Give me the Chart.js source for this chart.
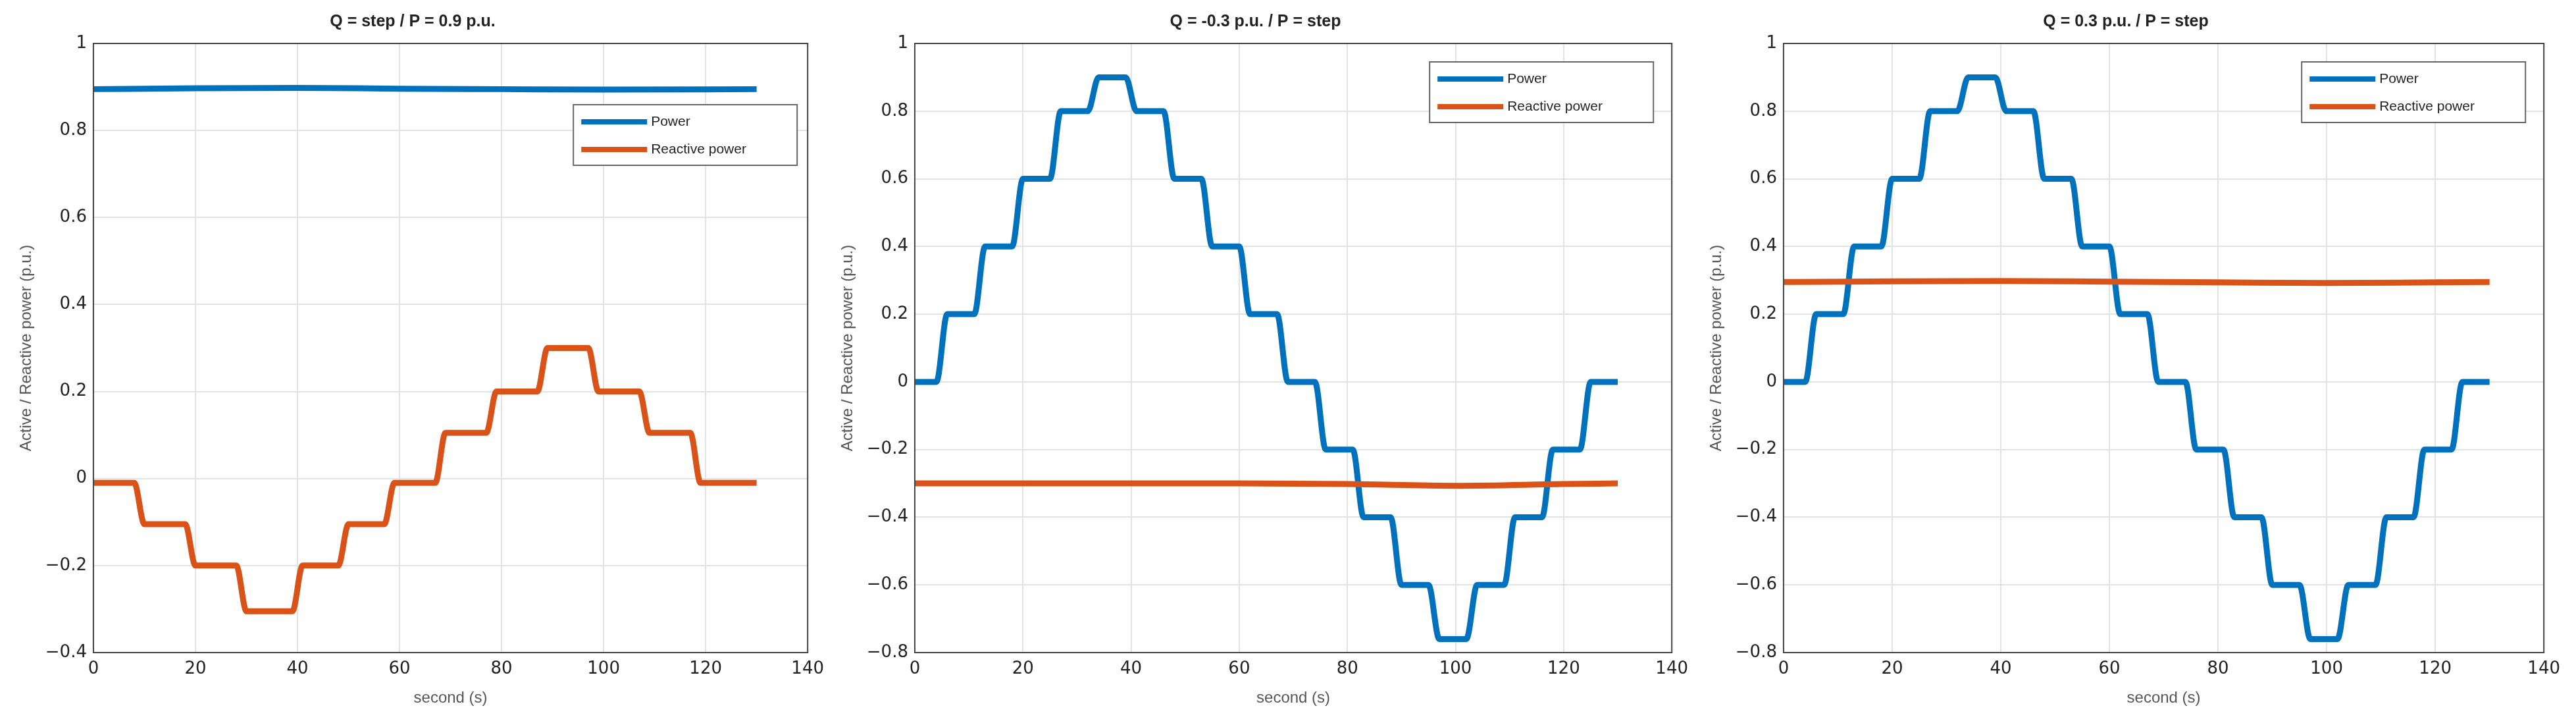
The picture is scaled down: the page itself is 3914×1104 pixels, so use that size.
<!DOCTYPE html>
<html><head><meta charset="utf-8">
<script src="https://cdn.jsdelivr.net/npm/chart.js@4"></script>
<style>body{margin:0;background:#fff;width:3914px;height:1104px;position:relative;overflow:hidden}
.c{position:absolute;top:0;height:1104px}</style></head><body>
<div class="c" style="left:2px;width:1260px"><canvas id="c1"></canvas></div>
<div class="c" style="left:1250px;width:1325px"><canvas id="c2"></canvas></div>
<div class="c" style="left:2570px;width:1330px"><canvas id="c3"></canvas></div>
<script>
// Panel 1: Q step, P constant
const t1 = [0,8,10,18,20,28,30,39,41,48,50,57,59,67,69,77,79,87,89,97,99,107,109,117,119,130];
const q1 = [-0.01,-0.01,-0.105,-0.105,-0.2,-0.2,-0.305,-0.305,-0.2,-0.2,-0.105,-0.105,-0.01,-0.01,0.105,0.105,0.2,0.2,0.3,0.3,0.2,0.2,0.105,0.105,-0.01,-0.01];
const tp1 = [0,20,40,60,80,100,130];
const p1 = [0.895,0.897,0.898,0.896,0.895,0.894,0.895];
// Panels 2/3: P step
const t2 = [0,4,6,11,13,18,20,25,27,32,34,39,41,46,48,53,55,60,62,67,69,74,76,81,83,88,90,95,97,102,104,109,111,116,118,123,125,130];
const p2 = [0,0,0.2,0.2,0.4,0.4,0.6,0.6,0.8,0.8,0.9,0.9,0.8,0.8,0.6,0.6,0.4,0.4,0.2,0.2,0,0,-0.2,-0.2,-0.4,-0.4,-0.6,-0.6,-0.76,-0.76,-0.6,-0.6,-0.4,-0.4,-0.2,-0.2,0,0];
const tq = [0,20,40,60,80,100,120,130];
const q2 = [-0.3,-0.3,-0.3,-0.3,-0.302,-0.307,-0.302,-0.3];
const q3 = [0.295,0.297,0.298,0.296,0.294,0.292,0.294,0.295];
const titles = ['Q = step / P = 0.9 p.u.','Q = -0.3 p.u. / P = step','Q = 0.3 p.u. / P = step'];
const seriesNames = ['Power','Reactive power'];
const BLUE='#0072BD', ORANGE='#D95319';
const pts=(x,y)=>x.map((v,i)=>({x:v,y:y[i]}));
const legendPlugin={id:'lg',afterDraw(ch){
  const a=ch.chartArea,c=ch.ctx;const w=ch.options.lgW||340,h=92;
  const x=a.right-w-ch.options.lgR, y=a.top+ch.options.lgT;
  c.save();c.fillStyle='#fff';c.strokeStyle='#666';c.lineWidth=2;c.fillRect(x,y,w,h);c.strokeRect(x,y,w,h);
  c.font='21px "Liberation Sans", Arial';c.textBaseline='middle';
  [[BLUE,seriesNames[0]],[ORANGE,seriesNames[1]]].forEach((s,i)=>{const yy=y+26+i*42;
    c.strokeStyle=s[0];c.lineWidth=8;c.beginPath();c.moveTo(x+12,yy);c.lineTo(x+112,yy);c.stroke();
    c.fillStyle='#222';c.fillText(s[1],x+118,yy);});
  c.restore();}};
const frame={id:'fr',afterDatasetsDraw(ch){const a=ch.chartArea,c=ch.ctx;c.save();c.strokeStyle='#444';c.lineWidth=2;c.strokeRect(a.left,a.top,a.right-a.left,a.bottom-a.top);c.restore();}};
function make(id,title,ds,ymin,ymax,lg){
  new Chart(document.getElementById(id),{type:'scatter',
   data:{datasets:ds.map((d,i)=>({label:seriesNames[i],data:d,showLine:true,borderColor:i?ORANGE:BLUE,backgroundColor:i?ORANGE:BLUE,borderWidth:9,pointRadius:0,cubicInterpolationMode:'monotone',order:i?0:1}))},
   options:Object.assign({responsive:true,maintainAspectRatio:false,animation:false,
    layout:{padding:{left:20,right:30,top:10,bottom:25}},
    plugins:{legend:{display:false},tooltip:{enabled:false},title:{display:true,text:title,color:'#222',font:{size:25,weight:'bold',family:'Liberation Sans'},padding:{top:8,bottom:18}}},
    scales:{x:{type:'linear',min:0,max:140,ticks:{stepSize:20,color:'#222',font:{size:26,family:'DejaVu Sans'},padding:10},grid:{color:'#e3e3e3',lineWidth:2,drawTicks:false},border:{display:false},title:{display:true,text:'second (s)',color:'#555',font:{size:24,family:'Liberation Sans'}}},
     y:{min:ymin,max:ymax,ticks:{stepSize:0.2,color:'#222',font:{size:26,family:'DejaVu Sans'},padding:10,callback:v=>{v=Math.round(v*10)/10;return v<0?'\u2212'+Math.abs(v):String(v);}},grid:{color:'#e3e3e3',lineWidth:2,drawTicks:false},border:{display:false},title:{display:true,text:'Active / Reactive power (p.u.)',color:'#555',font:{size:24,family:'Liberation Sans'}}}}},lg),
   plugins:[frame,legendPlugin]});
}
make('c1',titles[0],[pts(tp1,p1),pts(t1,q1)],-0.4,1,{lgW:340,lgR:16,lgT:93});
make('c2',titles[1],[pts(t2,p2),pts(tq,q2)],-0.8,1,{lgW:340,lgR:28,lgT:28});
make('c3',titles[2],[pts(t2,p2),pts(tq,q3)],-0.8,1,{lgW:340,lgR:28,lgT:28});
</script></body></html>
